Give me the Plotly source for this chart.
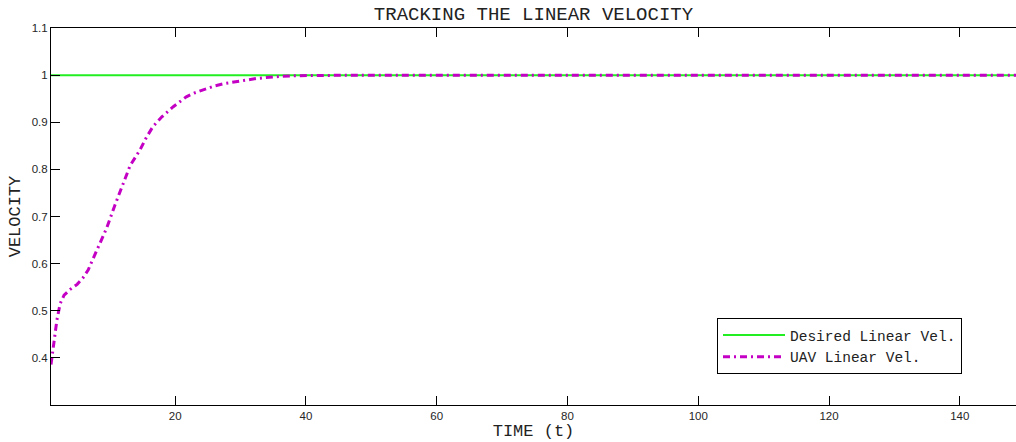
import plotly.graph_objects as go

# ---- data ----
time_desired = [1, 150]
vel_desired = [1.0, 1.0]

time_uav = [1.0, 1.2, 1.45, 1.9, 2.4, 3.0, 3.9, 5.0, 5.9, 6.7, 7.2, 7.7, 8.5, 9.5, 10.8,
            12.1, 13.1, 14.6, 15.6, 16.6, 18.0, 19.7, 21.7, 22.9, 24.4, 26.0, 27.5,
            30.0, 32.5, 35.3, 38.0, 42.0, 46.0, 50.0, 60.0, 80.0, 100.0, 120.0,
            140.0, 150.0]
vel_uav = [0.386, 0.408, 0.440, 0.480, 0.515, 0.533, 0.545, 0.556, 0.570, 0.587, 0.603,
           0.619, 0.644, 0.675, 0.725, 0.774, 0.808, 0.841, 0.868, 0.891, 0.912, 0.933,
           0.954, 0.962, 0.969, 0.977, 0.982, 0.988, 0.993, 0.9966, 0.9985, 0.9994,
           0.9998, 1.0, 1.0, 1.0, 1.0, 1.0, 1.0, 1.0]

x_ticks = [20, 40, 60, 80, 100, 120, 140]
y_ticks = [0.4, 0.5, 0.6, 0.7, 0.8, 0.9, 1.0, 1.1]
y_ticktext = ["0.4", "0.5", "0.6", "0.7", "0.8", "0.9", "1", "1.1"]

MONO = "Liberation Mono, Courier New, monospace"
SANS = "Liberation Sans, Arial, sans-serif"

fig = go.Figure()
fig.add_trace(go.Scatter(x=time_desired, y=vel_desired, mode="lines",
                         name="Desired Linear Vel.",
                         line=dict(color="#22ee22", width=2)))
fig.add_trace(go.Scatter(x=time_uav, y=vel_uav, mode="lines",
                         name="UAV Linear Vel.",
                         line=dict(color="#c400c4", width=3, dash="7px,4px,2px,4px")))

fig.update_layout(
    width=1016, height=442,
    margin=dict(l=51, r=0, t=28, b=37),
    paper_bgcolor="white", plot_bgcolor="white",
    title=dict(text="TRACKING THE LINEAR VELOCITY", x=0.5, xref="paper", xanchor="center",
               y=1 - 13 / 442, yref="container", yanchor="middle",
               font=dict(family=MONO, size=19, color="#222222")),
    legend=dict(x=(717 - 51) / 965, y=(405 - 318) / 377, xanchor="left", yanchor="top",
                bgcolor="white", bordercolor="black", borderwidth=1,
                font=dict(family=MONO, size=14.5, color="#222222"),
                itemwidth=62, tracegroupgap=0),
    showlegend=True,
)
fig.update_xaxes(range=[1, 148.6], tickvals=x_ticks, ticks="inside", ticklen=9,
                 tickcolor="black", showline=True, linecolor="black", linewidth=1,
                 mirror="allticks", showgrid=False, zeroline=False,
                 tickfont=dict(family=SANS, size=11.5, color="#262626"),
                 title=dict(text="TIME (t)", standoff=2,
                            font=dict(family=MONO, size=17, color="#222222")))
fig.update_yaxes(range=[0.3, 1.1], tickvals=y_ticks, ticktext=y_ticktext, ticks="inside",
                 ticklen=9, tickcolor="black", showline=True, linecolor="black",
                 linewidth=1, showgrid=False, zeroline=False,
                 tickfont=dict(family=SANS, size=11.5, color="#262626"),
                 title=dict(text="VELOCITY", standoff=6,
                            font=dict(family=MONO, size=17, color="#222222")))

fig.write_html("out.html")
